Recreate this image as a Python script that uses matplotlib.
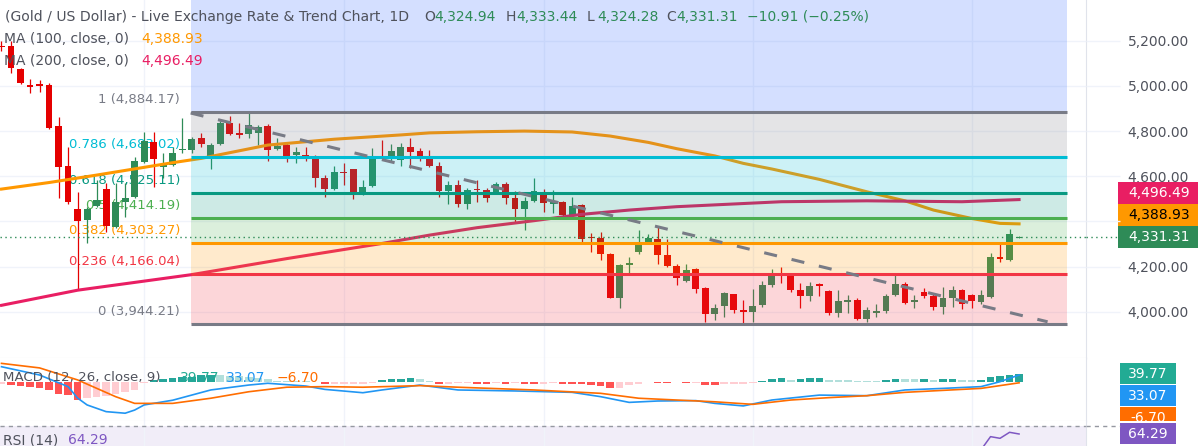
import numpy as np
import matplotlib
matplotlib.use("Agg")
import matplotlib.pyplot as plt
from matplotlib.patches import Rectangle

# ---- daily candles, oldest first ----
opens = [5177, 5175, 5076, 5002, 5007, 5005, 4823, 4645, 4454, 4405,
         4469, 4542, 4376, 4487, 4509, 4664, 4753, 4643, 4650, 4717,
         4716, 4768, 4684, 4741, 4837, 4789, 4786, 4790, 4823, 4719,
         4738, 4694, 4694, 4682, 4593, 4542, 4619, 4632, 4520, 4558,
         4689, 4675, 4672, 4731, 4712, 4687, 4645, 4536, 4561, 4477,
         4544, 4539, 4524, 4565, 4505, 4453, 4491, 4524, 4480, 4487,
         4428, 4472, 4331, 4327, 4255, 4062, 4208, 4265, 4305, 4324,
         4250, 4201, 4135, 4188, 4105, 3991, 4025, 4076, 4005, 4000,
         4029, 4117, 4169, 4157, 4098, 4070, 4119, 4092, 3994, 4045,
         4053, 3966, 3996, 4003, 4073, 4122, 4044, 4085, 4068, 4021,
         4061, 4095, 4073, 4043, 4065, 4240, 4231, 4324.94]
highs = [5197, 5197, 5080, 5031, 5027, 5014, 4864, 4728, 4528, 4464,
         4583, 4568, 4571, 4570, 4684, 4797, 4797, 4701, 4728, 4857,
         4775, 4790, 4746, 4843, 4868, 4835, 4884.17, 4827, 4830, 4771,
         4750, 4731, 4728, 4694, 4605, 4647, 4657, 4632, 4583, 4726,
         4760, 4741, 4749, 4771, 4724, 4716, 4664, 4580, 4583, 4546,
         4583, 4546, 4576, 4576, 4536, 4509, 4591, 4542, 4539, 4490,
         4509, 4476, 4349, 4354, 4258, 4213, 4240, 4361, 4346, 4376,
         4324, 4210, 4213, 4195, 4108, 4036, 4087, 4080, 4053, 4102,
         4135, 4187, 4196, 4169, 4125, 4132, 4125, 4095, 4095, 4073,
         4060, 4021, 4036, 4080, 4161, 4132, 4073, 4105, 4080, 4110,
         4112, 4102, 4080, 4098, 4260, 4298, 4364, 4333.44]
lows = [5153, 5058, 5009, 4969, 4975, 4809, 4502, 4476, 4095, 4302,
        4464, 4353, 4372, 4420, 4505, 4660, 4553, 4590, 4645, 4701,
        4705, 4728, 4632, 4738, 4783, 4768, 4768, 4738, 4667, 4716,
        4662, 4657, 4667, 4553, 4509, 4537, 4561, 4499, 4516, 4551,
        4682, 4667, 4645, 4635, 4669, 4642, 4509, 4477, 4462, 4453,
        4487, 4487, 4521, 4477, 4398, 4361, 4487, 4442, 4435, 4417,
        4420, 4309, 4265, 4231, 4060, 4018, 4166, 4255, 4302, 4213,
        4196, 4117, 4130, 4083, 3954, 3962, 3976, 3994, 3944.21, 3954,
        4021, 4110, 4125, 4087, 4016, 4046, 4068, 3984, 3976, 3994,
        3962, 3954, 3976, 3994, 4068, 4036, 4016, 4060, 4007, 3991,
        4021, 4013, 4016, 4036, 4062, 4220, 4225, 4324.28]
closes = [5173, 5079, 5015, 4998, 5003, 4815, 4642, 4487, 4402, 4454,
          4494, 4379, 4487, 4504, 4669, 4757, 4675, 4647, 4702, 4721,
          4764, 4743, 4738, 4837, 4787, 4785, 4827, 4820, 4716, 4734,
          4690, 4706, 4679, 4593, 4542, 4617, 4615, 4520, 4551, 4684,
          4685, 4712, 4731, 4709, 4684, 4645, 4536, 4561, 4477, 4539,
          4540, 4505, 4564, 4502, 4453, 4490, 4534, 4480, 4484, 4428,
          4468, 4324, 4327, 4255, 4062, 4206, 4212, 4302, 4327, 4250,
          4201, 4147, 4184, 4102, 3991, 4018, 4083, 4009, 4001, 4024,
          4117, 4169, 4158, 4095, 4068, 4114, 4115, 3994, 4046, 4049,
          3966, 4009, 4000, 4070, 4122, 4040, 4048, 4068, 4021, 4061,
          4095, 4036, 4047, 4073, 4243, 4236, 4342.22, 4331.31]

# moving averages (candle index, value)
ma100_idx = [0, 5, 10, 18, 21, 28, 35, 42, 45, 50, 55, 60, 64, 68, 71, 75, 78,
             81, 86, 91, 95, 98, 102, 105, 107]
ma100_val = [4543, 4572, 4605, 4660, 4679, 4738, 4764, 4783, 4792, 4797, 4800,
             4796, 4778, 4750, 4722, 4690, 4657, 4632, 4586, 4531, 4491, 4450,
             4413, 4391, 4388.93]
ma200_idx = [0, 8, 20, 30, 40, 45, 50, 56, 61, 66, 71, 77, 82, 91, 101, 107]
ma200_val = [4028, 4095, 4164, 4235, 4302, 4339, 4372, 4403, 4431, 4450, 4465,
             4477, 4487, 4491, 4487, 4496.49]

# fibonacci retracement anchors and the dashed trend line
fib_high, fib_low = 4884.17, 3944.21
fib_ratios = [0, 0.236, 0.382, 0.5, 0.618, 0.786, 1, 1.618]
fib_colors = ['#787b86', '#f23645', '#ff9800', '#4caf50', '#089981',
              '#00bcd4', '#787b86', '#2962ff']
fib_span = [19.89, 112.07]
trend_idx = [19.89, 110.0]
trend_val = [4880, 3955]

# MACD (12, 26, close, 9)
macd_idx = [0, 4, 7, 8, 9, 11, 13, 14, 15, 18, 22, 26, 28, 32, 34, 38, 40, 44,
            48, 54, 60, 63, 66, 69, 73, 75, 78, 81, 86, 91, 95, 99, 103, 105, 107]
macd_val = [75, 33, -26, -84, -119, -153, -161, -145, -119, -95, -43, -18, -9,
            -23, -40, -57, -43, -18, -43, -48, -55, -77, -106, -99, -97, -111,
            -124, -94, -69, -72, -43, -35, -26, -1, 33.07]
signal_idx = [0, 4, 8, 12, 14, 18, 22, 26, 30, 34, 38, 44, 48, 56, 63, 67, 71,
              75, 79, 83, 87, 91, 95, 101, 103, 107]
signal_val = [92, 69, 8, -77, -111, -111, -85, -52, -29, -26, -29, -21, -29,
              -43, -60, -85, -94, -103, -116, -94, -82, -72, -55, -40, -35, -6.70]
macd_hist = [-15, -20, -23, -28, -33, -41, -64, -71, -94, -84,
             -81, -76, -64, -53, -41, -10, 8, 15, 18, 23,
             25, 33, 34, 33, 30, 28, 23, 20, 13, 5,
             3, 2, 2, -3, -15, -13, -13, -13, -12, -8,
             8, 13, 15, 19, 13, 5, -12, -12, -10, -8,
             -12, -13, -10, -12, -10, -14, -15, -13, -10, -12,
             -14, -15, -17, -25, -34, -33, -20, -14, -5, -9,
             -10, -5, -10, -9, -17, -18, -14, -12, -12, -10,
             4, 14, 17, 10, 15, 16, 17, 10, 7, 7,
             4, 4, 4, 10, 14, 13, 12, 14, 10, 13,
             15, 10, 8, 9, 22, 27, 34, 39.77]

# RSI (14), only the tail reaches into the visible strip
rsi_idx = [100, 101, 102, 103, 104, 105, 106, 107]
rsi_val = [48, 45, 49, 53, 62.4, 61.2, 65.5, 64.29]

month_idx = [15, 36, 57, 79, 102]
price_ticks = [4000, 4200, 4400, 4600, 4800, 5000, 5200]
hidden_ticks = [4400]   # covered by the price tags on the original

# ---- layout (pixels) ----
W, H = 1198, 446
STEP, X0 = 9.51, 1.5
AXR = 1086
MAIN_B, MACD_B = 357.5, 420.5
PPU, Y5200 = 0.2257, 40.8          # main pane: px per USD, pixel row of 5200
MZERO, MPU = 381.5, 0.197          # macd pane: zero row, px per unit
R70, RPU = 426.0, 1.4              # rsi pane: 70 row, px per unit

GREEN, RED = '#2e8b57', '#e50000'
GRID, SEP, TXT = '#f0f3fa', '#e0e3eb', '#4f525c'

plt.rcParams['font.family'] = ['DejaVu Sans']


def box(x0, y0, x1, y1):
    return [x0 / W, 1 - y1 / H, (x1 - x0) / W, (y1 - y0) / H]


def px2x(px):
    return (px - X0) / STEP


def ftext(x, y, s, color=TXT, size=10, **kw):
    fig.text(x / W, 1 - y / H, s, color=color, fontsize=size, va='center', **kw)


def stack(vals, h, upward):
    # keep the price tags from overlapping, like the platform does
    order = sorted(range(len(vals)), key=lambda k: vals[k], reverse=not upward)
    out = list(vals)
    last = None
    for k in order:
        v = vals[k]
        if last is not None:
            v = max(v, last + h) if upward else min(v, last - h)
        out[k] = v
        last = v
    return out


fig = plt.figure(figsize=(W / 100, H / 100), dpi=100)
ax = fig.add_axes(box(0, 0, AXR, MAIN_B))
mx = fig.add_axes(box(0, MAIN_B, AXR, MACD_B))
rx = fig.add_axes(box(0, MACD_B, AXR, H))

xlim = (px2x(0), px2x(AXR))
main_ylim = (5200 - (MAIN_B - Y5200) / PPU, 5200 + Y5200 / PPU)
macd_ylim = (-(MACD_B - MZERO) / MPU, (MZERO - MAIN_B) / MPU)
rsi_ylim = (70 - (H - R70) / RPU, 70 + (R70 - MACD_B) / RPU)

for a, yl in ((ax, main_ylim), (mx, macd_ylim), (rx, rsi_ylim)):
    a.set_xlim(*xlim)
    a.set_ylim(*yl)
    a.set_xticks(month_idx)
    a.tick_params(axis='x', length=0, labelbottom=False)
    a.grid(axis='x', color=GRID, lw=1, zorder=0)
    a.set_axisbelow(True)
    for s in ('top', 'left'):
        a.spines[s].set_visible(False)
    a.spines['right'].set_color(SEP)
    a.spines['bottom'].set_color(SEP)
rx.spines['bottom'].set_visible(False)
mx.set_yticks([])
rx.set_yticks([])

# ---- main pane ----
ax.yaxis.tick_right()
ax.set_yticks(price_ticks)
ax.set_yticklabels(["" if v in hidden_ticks else f"{v:,.2f}" for v in price_ticks])
ax.tick_params(axis='y', length=0, pad=30, labelsize=10, labelcolor=TXT)
ax.grid(axis='y', color=GRID, lw=1, zorder=0)

idx = np.arange(len(closes))
o, hi, lo, cl = (np.array(v, dtype=float) for v in (opens, highs, lows, closes))
ccol = np.where(cl >= o, GREEN, RED)
ax.vlines(idx, lo, hi, colors=ccol, lw=0.9, zorder=3)
body = np.maximum(np.abs(cl - o), 7)
ax.bar(idx, body, bottom=(o + cl) / 2 - body / 2, width=0.72, color=ccol,
       lw=0, zorder=3)

ax.plot(ma100_idx, ma100_val, color='#ff9800', lw=2.2, zorder=3.5)
ax.plot(ma200_idx, ma200_val, color='#e91e63', lw=2.2, zorder=3.5)

lev = fib_low + np.array(fib_ratios) * (fib_high - fib_low)
for k in range(1, len(lev)):
    ax.fill_between(fib_span, lev[k - 1], lev[k], color=fib_colors[k],
                    alpha=0.2, lw=0, zorder=4)
for r, v, colr in zip(fib_ratios, lev, fib_colors):
    if r > 1:
        continue
    ax.hlines(v, fib_span[0], fib_span[1], colors=colr, lw=2.2, zorder=5)
    ax.annotate(f"{r:g} ({v:,.2f})", (px2x(180), v), xytext=(0, 12.5),
                textcoords='offset pixels', ha='right', va='center',
                color=colr, fontsize=9.5, zorder=2.8)

ax.plot(trend_idx, trend_val, color='#787b86', lw=2.2, ls=(0, (4.3, 4.9)),
        zorder=5)
ax.axhline(cl[-1], color=GREEN, lw=1, ls=(0, (1, 2.5)), zorder=6)

# price scale tags
pax = fig.add_axes(box(AXR, 0, W, MAIN_B), zorder=5)
pax.set_xlim(AXR, W)
pax.set_ylim(*main_ylim)
pax.axis('off')
pax.hlines(price_ticks, AXR, 1120, colors=GRID, lw=1)
pax.hlines(cl[-1], AXR, 1118, colors=GREEN, lw=1, ls=(0, (1, 2.5)))
tags = [(ma200_val[-1], '#e91e63', 'white'),
        (ma100_val[-1], '#ff9800', 'black'),
        (cl[-1], GREEN, 'white')]
th = 21.5 / PPU
pos = stack([t[0] for t in tags], 22 / PPU, upward=True)
for (v, fc, tc), p in zip(tags, pos):
    pax.add_patch(Rectangle((1118, p - th / 2), W - 1118, th, color=fc, lw=0))
    pax.text(1159, p, f"{v:,.2f}", color=tc, fontsize=10, ha='center',
             va='center')

# ---- MACD pane ----
hist = np.array(macd_hist, dtype=float)
prev = np.concatenate([[hist[0]], hist[:-1]])
hcol = np.where(hist >= 0,
                np.where(hist > prev, '#26a69a', '#b2dfdb'),
                np.where(hist < prev, '#ff5252', '#ffcdd2'))
mx.bar(idx, hist, width=0.8, color=hcol, lw=0, zorder=2)
mx.plot(macd_idx, macd_val, color='#2196f3', lw=1.2, zorder=3)
mx.plot(signal_idx, signal_val, color='#ff6d00', lw=1.2, zorder=3)

mpax = fig.add_axes(box(AXR, MAIN_B, W, MACD_B), zorder=5)
mpax.set_xlim(AXR, W)
mpax.set_ylim(*macd_ylim)
mpax.axis('off')
mtags = [(macd_hist[-1], '#22ab94'), (macd_val[-1], '#2196f3'),
         (signal_val[-1], '#ff6d00')]
mth = 21.5 / MPU
mpos = stack([t[0] for t in mtags], 22 / MPU, upward=False)
for (v, fc), p in zip(mtags, mpos):
    mpax.add_patch(Rectangle((1120, p - mth / 2), 56, mth, color=fc, lw=0))
    mpax.text(1148, p, f"{v:.2f}", color='white', fontsize=10, ha='center',
              va='center', clip_on=True)

# ---- RSI pane ----
rx.axhspan(30, 70, color='#7e57c2', alpha=0.1, lw=0, zorder=0)
rx.axhline(70, color='#9598a1', lw=1, ls=(0, (3, 3)), zorder=1)
rx.plot(rsi_idx, rsi_val, color='#7e57c2', lw=1.1, zorder=3)
rpax = fig.add_axes(box(AXR, MACD_B, W, H), zorder=5)
rpax.set_xlim(AXR, W)
rpax.set_ylim(*rsi_ylim)
rpax.axis('off')
rpax.hlines(70, AXR, 1120, colors='#9598a1', lw=1, ls=(0, (3, 3)))
rth = 21 / RPU
rpax.add_patch(Rectangle((1120, rsi_val[-1] - rth / 2), 56, rth,
                         color='#7e57c2', lw=0))
rpax.text(1148, rsi_val[-1], f"{rsi_val[-1]:.2f}", color='white', fontsize=10,
          ha='center', va='center')

# ---- legends / header ----
chg = cl[-1] - cl[-2]
ftext(5, 17, "(Gold / US Dollar) - Live Exchange Rate & Trend Chart, 1D",
      size=10.1)
for lab, val, xl in (("O", o[-1], 424), ("H", hi[-1], 506),
                     ("L", lo[-1], 587), ("C", cl[-1], 666)):
    ftext(xl, 17, lab)
    ftext(xl + 10, 17, f"{val:,.2f}", color=GREEN)
ftext(747, 17, f"{chg:+.2f} ({chg / cl[-2] * 100:+.2f}%)".replace('-', '\u2212'),
      color=GREEN)
ftext(4, 39, "MA (100, close, 0)")
ftext(141, 39, f"{ma100_val[-1]:,.2f}", color='#ff9800')
ftext(4, 61, "MA (200, close, 0)")
ftext(141, 61, f"{ma200_val[-1]:,.2f}", color='#e91e63')

ftext(3, 378, "MACD (12, 26, close, 9)", size=9.6)
ftext(180, 378, f"{macd_hist[-1]:.2f}", color='#22ab94')
ftext(226, 378, f"{macd_val[-1]:.2f}", color='#2196f3')
ftext(277, 378, f"{signal_val[-1]:.2f}".replace('-', '\u2212'), color='#ff6d00')
ftext(3, 440, "RSI (14)")
ftext(68, 440, f"{rsi_val[-1]:.2f}", color='#7e57c2')

fig.savefig("out.png", dpi=100)
